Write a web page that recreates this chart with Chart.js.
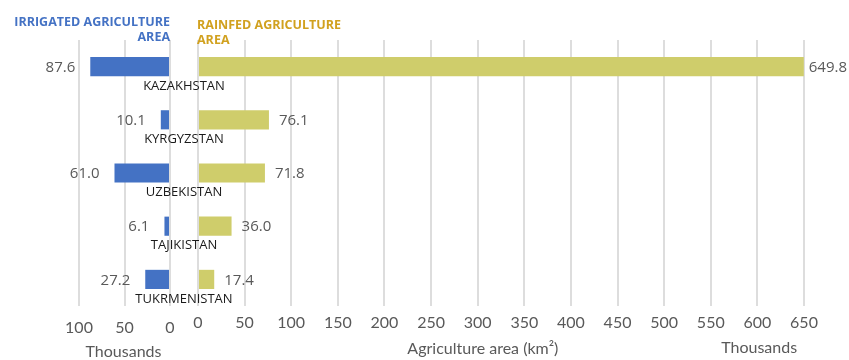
<!DOCTYPE html>
<html>
<head>
<meta charset="utf-8">
<script src="https://cdn.jsdelivr.net/npm/chart.js@4/dist/chart.umd.min.js"></script>
<style>
  html, body { margin: 0; padding: 0; background: #ffffff; }
  #wrap { position: relative; width: 849px; height: 360px; }
  #wrap canvas { position: absolute; left: 0; top: 0; }
</style>
</head>
<body>
<div id="wrap">
  <canvas id="left" width="849" height="360"></canvas>
  <canvas id="right" width="849" height="360"></canvas>
</div>
<script>
// ---- data ----
const categories = ['KAZAKHSTAN', 'KYRGYZSTAN', 'UZBEKISTAN', 'TAJIKISTAN', 'TUKRMENISTAN'];
const irrigated = [87.6, 10.1, 61.0, 6.1, 27.2];     // thousand km²
const rainfed = [649.8, 76.1, 71.8, 36.0, 17.4];     // thousand km²
const irrigatedTicks = [0, 50, 100];
const rainfedTicks = [0, 50, 100, 150, 200, 250, 300, 350, 400, 450, 500, 550, 600, 650];
const irrigatedHeader = ['IRRIGATED AGRICULTURE', 'AREA'];
const rainfedHeader = ['RAINFED AGRICULTURE', 'AREA'];
const axisTitle = 'Agriculture area (km²)';
const unitLabel = 'Thousands';

// ---- styles ----
const BLUE = '#4472C4';
const YELLOW = '#CFCD6B';
const GOLD = '#D1A11F';
const GRID = '#DDDDDD';
const TEXT = '#595959';
const TICK_FONT = { family: 'Lato, "Open Sans", sans-serif', size: 16 };
const VALUE_FONT = '15px "Open Sans", sans-serif';
const CAT_FONT = '13px "Open Sans", sans-serif';
const HEAD_FONT = 'bold 12.5px "Open Sans", sans-serif';
const TITLE_FONT = '16px Lato, "Open Sans", sans-serif';

function baseOptions(xOpts, padding, plugin) {
  return {
    responsive: false,
    animation: false,
    indexAxis: 'y',
    layout: { padding: padding },
    plugins: { legend: { display: false }, tooltip: { enabled: false } },
    scales: {
      y: { display: false, offset: true, grid: { display: false } },
      x: Object.assign({
        grid: { color: GRID, lineWidth: 2, drawTicks: false },
        border: { display: false },
        afterFit: s => { s.height = 54; }
      }, xOpts)
    }
  };
}

const leftLabels = {
  id: 'leftLabels',
  afterDatasetsDraw(chart) {
    const ctx = chart.ctx;
    const meta = chart.getDatasetMeta(0);
    const area = chart.chartArea;
    ctx.save();
    ctx.font = VALUE_FONT;
    ctx.fillStyle = TEXT;
    ctx.textAlign = 'right';
    ctx.textBaseline = 'middle';
    meta.data.forEach((bar, i) => {
      ctx.fillText(irrigated[i].toFixed(1), bar.x - 15, bar.y + 1);
    });
    // header
    ctx.font = HEAD_FONT;
    ctx.fillStyle = BLUE;
    ctx.textAlign = 'right';
    irrigatedHeader.forEach((t, i) => ctx.fillText(t, area.right, 22 + i * 15));
    // unit title
    ctx.font = TITLE_FONT;
    ctx.fillStyle = TEXT;
    ctx.textAlign = 'center';
    ctx.fillText(unitLabel, (area.left + area.right) / 2 - 1, 352);
    ctx.restore();
  }
};

const rightLabels = {
  id: 'rightLabels',
  afterDatasetsDraw(chart) {
    const ctx = chart.ctx;
    const meta = chart.getDatasetMeta(0);
    const area = chart.chartArea;
    ctx.save();
    ctx.font = VALUE_FONT;
    ctx.fillStyle = TEXT;
    ctx.textAlign = 'left';
    ctx.textBaseline = 'middle';
    meta.data.forEach((bar, i) => {
      const txt = rainfed[i].toFixed(1);
      const w = ctx.measureText(txt).width;
      const x = Math.min(bar.x + 10, chart.width - w - 2);
      ctx.fillText(txt, x, bar.y + 1);
    });
    // category labels (between the two panels)
    ctx.font = CAT_FONT;
    ctx.fillStyle = '#1a1a1a';
    ctx.textAlign = 'center';
    meta.data.forEach((bar, i) => {
      ctx.fillText(categories[i], area.left - 14, bar.y + 19.5);
    });
    // header
    ctx.font = HEAD_FONT;
    ctx.fillStyle = GOLD;
    ctx.textAlign = 'left';
    rainfedHeader.forEach((t, i) => ctx.fillText(t, area.left - 1, 25 + i * 15));
    // titles
    ctx.font = TITLE_FONT;
    ctx.fillStyle = TEXT;
    ctx.textAlign = 'center';
    const w = area.right - area.left;
    ctx.fillText(axisTitle, area.left + 0.47 * w, 349);
    ctx.fillText(unitLabel, area.left + 0.926 * w, 348);
    ctx.restore();
  }
};

new Chart(document.getElementById('left'), {
  type: 'bar',
  data: {
    labels: categories,
    datasets: [{ data: irrigated, backgroundColor: BLUE, categoryPercentage: 1, barPercentage: 0.36 }]
  },
  options: baseOptions({
    reverse: true,
    min: irrigatedTicks[0],
    max: irrigatedTicks[irrigatedTicks.length - 1],
    afterBuildTicks: s => { s.ticks = irrigatedTicks.map(v => ({ value: v })); },
    ticks: { color: TEXT, font: TICK_FONT, padding: 12, maxRotation: 0 }
  }, { left: 79, right: 679, top: 40, bottom: 0 }),
  plugins: [leftLabels]
});

new Chart(document.getElementById('right'), {
  type: 'bar',
  data: {
    labels: categories,
    datasets: [{ data: rainfed, backgroundColor: YELLOW, categoryPercentage: 1, barPercentage: 0.36 }]
  },
  options: baseOptions({
    min: rainfedTicks[0],
    max: rainfedTicks[rainfedTicks.length - 1],
    afterBuildTicks: s => { s.ticks = rainfedTicks.map(v => ({ value: v })); },
    ticks: { color: TEXT, font: TICK_FONT, padding: 7, maxRotation: 0, autoSkip: false }
  }, { left: 198, right: 45, top: 40, bottom: 0 }),
  plugins: [rightLabels]
});
</script>
</body>
</html>
